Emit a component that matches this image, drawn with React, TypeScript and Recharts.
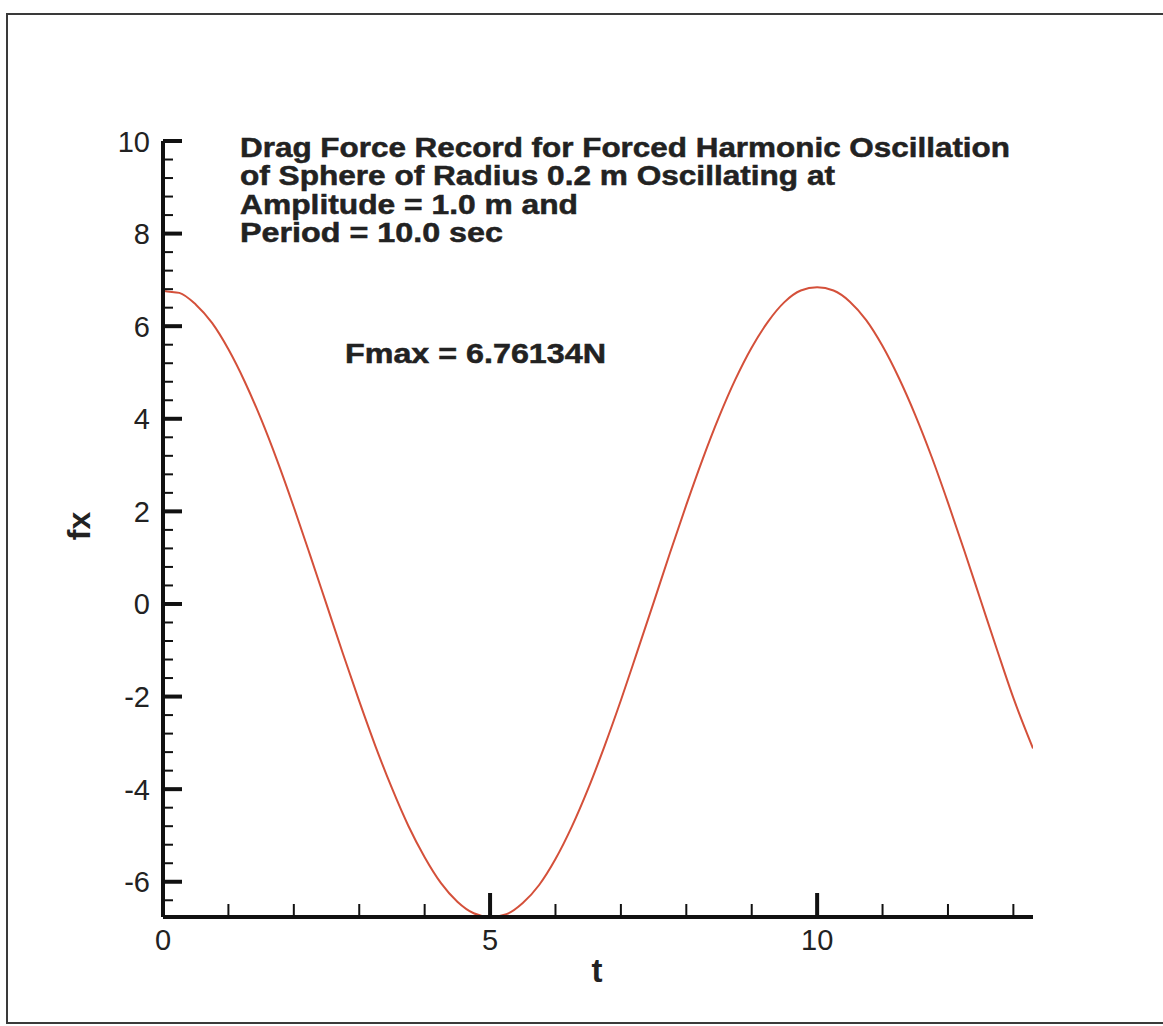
import React from 'react';
import { LineChart, Line, XAxis, YAxis, Customized } from 'recharts';

// Sampled drag force record fx(t)
const TIME = [
  0, 0.02, 0.25, 0.5, 0.75, 1.0, 1.25, 1.5, 1.75, 2.0, 2.25, 2.5, 2.75, 3.0, 3.25, 3.5, 3.75,
  4.0, 4.25, 4.5, 4.75, 5.0, 5.25, 5.5, 5.75, 6.0, 6.25, 6.5, 6.75, 7.0, 7.25, 7.5, 7.75,
  8.0, 8.25, 8.5, 8.75, 9.0, 9.25, 9.5, 9.75, 10.0, 10.25, 10.5, 10.75, 11.0, 11.25, 11.5,
  11.75, 12.0, 12.25, 12.5, 12.75, 13.0, 13.3,
];
const FX = [
  7.5, 6.76134, 6.72, 6.47, 6.07, 5.5, 4.8, 3.99, 3.08, 2.09, 1.05, -0.01, -1.07, -2.1, -3.08,
  -3.98, -4.79, -5.47, -6.03, -6.43, -6.68, -6.76134, -6.7, -6.46, -6.07, -5.51, -4.81, -3.99,
  -3.07, -2.08, -1.03, 0.03, 1.1, 2.14, 3.13, 4.04, 4.85, 5.54, 6.1, 6.52, 6.77, 6.84, 6.77,
  6.53, 6.13, 5.57, 4.88, 4.08, 3.18, 2.19, 1.15, 0.08, -0.99, -2.03, -3.12,
];

const X_DOMAIN: [number, number] = [0, 13.3];
const Y_DOMAIN: [number, number] = [-6.76134, 10];
const X_TICKS = [0, 1, 2, 3, 4, 5, 6, 7, 8, 9, 10, 11, 12, 13];
const X_LABELED = [0, 5, 10];
const Y_MAJOR = [-6, -4, -2, 0, 2, 4, 6, 8, 10];
const Y_MINOR_STEP = 0.4;

const TITLE_LINES = [
  'Drag Force Record for Forced Harmonic Oscillation',
  'of Sphere of Radius 0.2 m Oscillating at',
  'Amplitude = 1.0 m and',
  'Period = 10.0 sec',
];
const FMAX_LABEL = 'Fmax = 6.76134N';

const rows = TIME.map((t, i) => ({ t, fx: FX[i] }));

// minor + major ticks on the fx axis, every 0.4 from -6.4 up to 10
const yTicks: number[] = [];
for (let k = -16; k <= 25; k++) yTicks.push(Math.round(k * Y_MINOR_STEP * 10) / 10);

const AXIS = '#111';
const CURVE = '#d4503a';
const LABEL_FONT = '"Liberation Sans", Arial, Helvetica, sans-serif';

const YTick = (props: any) => {
  const { x, y, payload } = props;
  const v = payload.value;
  const major = Y_MAJOR.some((m) => Math.abs(m - v) < 1e-6);
  return (
    <g>
      <line
        x1={x}
        x2={x + (major ? 19 : 10)}
        y1={y}
        y2={y}
        stroke={AXIS}
        strokeWidth={major ? 4 : 2}
      />
      {major && (
        <text
          x={x - 13}
          y={y + 10.5}
          textAnchor="end"
          fontFamily={LABEL_FONT}
          fontSize={29}
          fill="#222"
        >
          {String(Math.round(v))}
        </text>
      )}
    </g>
  );
};

const XTick = (props: any) => {
  const { x, y, payload } = props;
  const v = payload.value;
  const major = X_LABELED.includes(v);
  return (
    <g>
      {v !== 0 && (
        <line
          x1={x}
          x2={x}
          y1={y}
          y2={y - (major ? 24 : 13)}
          stroke={AXIS}
          strokeWidth={major ? 4 : 2}
        />
      )}
      {major && (
        <text
          x={x}
          y={y + 33}
          textAnchor="middle"
          fontFamily={LABEL_FONT}
          fontSize={29}
          fill="#222"
        >
          {String(v)}
        </text>
      )}
    </g>
  );
};

// widths of each annotation line as set in the plot
const TITLE_WIDTHS = [770, 595, 338, 263];

const Annotations = () => (
  <g fontFamily={LABEL_FONT} fontWeight="bold" fill="#222">
    {TITLE_LINES.map((line, i) => (
      <text
        key={line}
        x={240}
        y={157 + i * 28.3}
        fontSize={27}
        textLength={TITLE_WIDTHS[i]}
        lengthAdjust="spacingAndGlyphs"
        stroke="#222"
        strokeWidth={0.5}
      >
        {line}
      </text>
    ))}
    <text
      x={345}
      y={363}
      fontSize={27}
      textLength={261}
      lengthAdjust="spacingAndGlyphs"
      stroke="#222"
      strokeWidth={0.5}
    >
      {FMAX_LABEL}
    </text>
    <text x={0} y={0} fontSize={32} textAnchor="middle" transform="translate(90 526) rotate(-90)">
      fx
    </text>
    <text x={597} y={982} fontSize={33} textAnchor="middle">
      t
    </text>
  </g>
);

export default function App() {
  return (
    <div style={{ position: 'absolute', left: 0, top: 0, width: 1163, height: 1026, background: '#fff', overflow: 'hidden' }}>
      <div
        style={{
          position: 'absolute',
          left: 6,
          top: 13,
          width: 1300,
          height: 1011,
          borderLeft: '2px solid #3a3a3a',
          borderTop: '2px solid #3a3a3a',
          borderBottom: '2px solid #3a3a3a',
          boxSizing: 'border-box',
        }}
      />
      <LineChart
        width={1163}
        height={1026}
        data={rows}
        margin={{ top: 141, right: 130, bottom: 0, left: 0 }}
        style={{ position: 'absolute', left: 0, top: 0 }}
      >
        <XAxis
          type="number"
          dataKey="t"
          domain={X_DOMAIN}
          ticks={X_TICKS}
          interval={0}
          allowDataOverflow
          height={109}
          tickSize={0}
          tickMargin={0}
          tickLine={false}
          axisLine={{ stroke: AXIS, strokeWidth: 4 }}
          tick={(p: any) => <XTick {...p} />}
        />
        <YAxis
          type="number"
          domain={Y_DOMAIN}
          ticks={yTicks}
          interval={0}
          allowDataOverflow
          width={163}
          tickSize={0}
          tickMargin={0}
          tickLine={false}
          axisLine={{ stroke: AXIS, strokeWidth: 4 }}
          tick={(p: any) => <YTick {...p} />}
        />
        <Line
          type="monotone"
          dataKey="fx"
          stroke={CURVE}
          strokeWidth={2}
          dot={false}
          isAnimationActive={false}
        />
        <Customized component={Annotations} />
      </LineChart>
    </div>
  );
}
